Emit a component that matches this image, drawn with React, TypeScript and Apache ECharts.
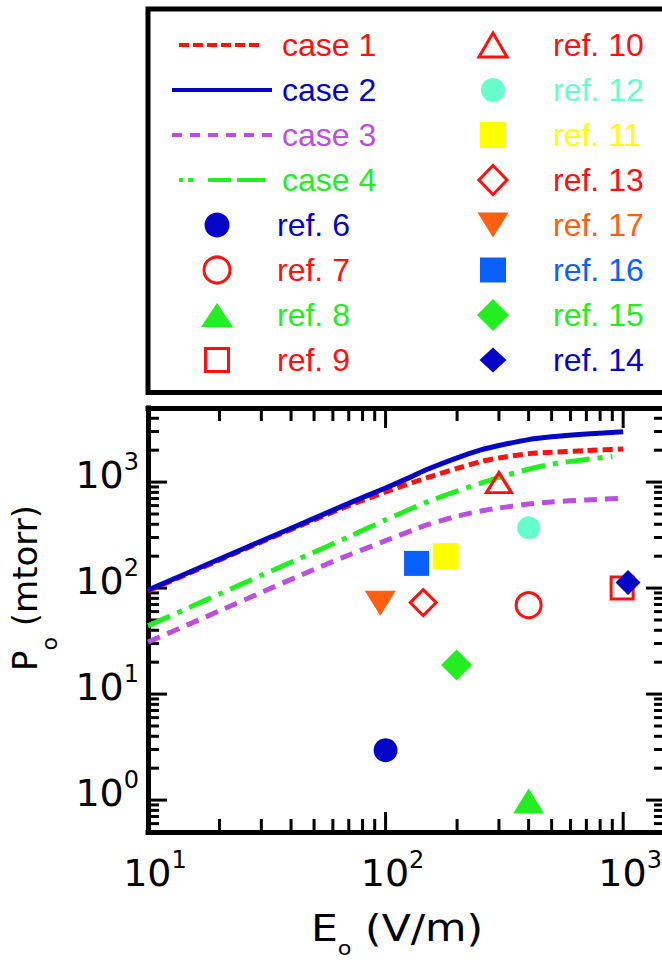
import React, { useEffect, useRef } from 'react';
import * as echarts from 'echarts';

// ---------- axis ranges & ticks ----------
const X_MIN = 10;
const X_MAX = 1500;
const Y_MIN = 0.5;
const Y_MAX = 5000;
const X_MAJOR_TICKS = [100, 1000];
const X_MINOR_TICKS = [20, 30, 40, 50, 60, 70, 80, 90, 200, 300, 400, 500, 600, 700, 800, 900];
const Y_MAJOR_TICKS = [1, 10, 100, 1000];
const Y_MINOR_TICKS = [0.6, 0.7, 0.8, 0.9, 2, 3, 4, 5, 6, 7, 8, 9, 20, 30, 40, 50, 60, 70, 80, 90,
  200, 300, 400, 500, 600, 700, 800, 900, 2000, 3000, 4000];

// ---------- model curves ----------
const E_CURVE = [10, 15, 20, 30, 50, 70, 100, 130, 150, 200, 250, 300, 400, 500, 700, 1000];
const E_CASE4 = [10, 15, 20, 30, 50, 70, 100, 130, 150, 200, 250, 300, 400, 500, 700, 900];
const CASE1 = [94, 139, 184, 272, 440, 600, 810, 991, 1104, 1346, 1555, 1690, 1853, 1910, 1983, 2050];
const CASE2 = [96, 142, 188, 278, 455, 630, 880, 1138, 1322, 1695, 2000, 2213, 2516, 2673, 2838, 2985];
const CASE3 = [31, 46, 61, 91, 150, 205, 280, 351, 396, 476, 532, 569, 621, 650, 679, 703];
const CASE4 = [44, 66, 88, 132, 218, 305, 440, 569, 650, 824, 972, 1107, 1322, 1476, 1637, 1740];

// ---------- reference points [E, P] ----------
const REF6 = [[100, 2.96]];
const REF7 = [[400, 69]];
const REF8 = [[400, 0.98]];
const REF9 = [[990, 100]];
const REF10 = [[300, 990]];
const REF12 = [[400, 370]];
const REF11 = [[179, 200]];
const REF13 = [[144, 73]];
const REF17 = [[95, 72]];
const REF16 = [[135, 171]];
const REF15 = [[199, 18.8]];
const REF14 = [[1048, 113]];

// ---------- colours ----------
const RED = '#ff1010';
const DBLUE = '#0505c8';
const PURPLE = '#bb4fe0';
const GREEN = '#22ee22';
const AQUA = '#66ffcc';
const YELLOW = '#ffff00';
const ORANGE = '#ff6010';
const BLUE = '#0a60ff';

type Curve = { name: string; xs: number[]; values: number[]; color: string; dash: number[] | 'solid'; legendDash: number[] | null; lx: [number, number] };
const CURVES: Curve[] = [
  { name: 'case 1', xs: E_CURVE, values: CASE1, color: RED, dash: [10, 5], legendDash: [10, 4], lx: [179, 263] },
  { name: 'case 2', xs: E_CURVE, values: CASE2, color: DBLUE, dash: 'solid', legendDash: null, lx: [172, 272] },
  { name: 'case 3', xs: E_CURVE, values: CASE3, color: PURPLE, dash: [13, 8], legendDash: [10, 8], lx: [172, 272] },
  { name: 'case 4', xs: E_CASE4, values: CASE4, color: GREEN, dash: [24, 8, 5, 8], legendDash: [4, 5, 5, 15, 23, 6, 28], lx: [179, 265] },
];

type Mk = { name: string; data: number[][]; shape: string; color: string; open: boolean; size: number[]; lsize: number[] };
const LEFT_MARKERS: Mk[] = [
  { name: 'ref. 6', data: REF6, shape: 'circle', color: DBLUE, open: false, size: [24, 24], lsize: [25, 25] },
  { name: 'ref. 7', data: REF7, shape: 'circle', color: RED, open: true, size: [25, 25], lsize: [26, 26] },
  { name: 'ref. 8', data: REF8, shape: 'triangle', color: GREEN, open: false, size: [31, 25], lsize: [32, 24] },
  { name: 'ref. 9', data: REF9, shape: 'rect', color: RED, open: true, size: [22, 22], lsize: [23, 23] },
];
const RIGHT_MARKERS: Mk[] = [
  { name: 'ref. 10', data: REF10, shape: 'triangle', color: RED, open: true, size: [25, 20], lsize: [28, 24] },
  { name: 'ref. 12', data: REF12, shape: 'circle', color: AQUA, open: false, size: [23, 23], lsize: [24, 24] },
  { name: 'ref. 11', data: REF11, shape: 'rect', color: YELLOW, open: false, size: [26, 26], lsize: [26, 26] },
  { name: 'ref. 13', data: REF13, shape: 'diamond', color: RED, open: true, size: [26, 26], lsize: [28, 29] },
  { name: 'ref. 17', data: REF17, shape: 'triangleDown', color: ORANGE, open: false, size: [31, 25], lsize: [31, 25] },
  { name: 'ref. 16', data: REF16, shape: 'rect', color: BLUE, open: false, size: [25, 25], lsize: [26, 25] },
  { name: 'ref. 15', data: REF15, shape: 'diamond', color: GREEN, open: false, size: [31, 31], lsize: [32, 32] },
  { name: 'ref. 14', data: REF14, shape: 'diamond', color: DBLUE, open: false, size: [25, 25], lsize: [27, 25] },
];

const TICK_FONT = 'DejaVu Sans';
const LEG_FONT = 'Liberation Sans';

function powLabel(v: number) {
  const e = Math.log10(v);
  if (Math.abs(e - Math.round(e)) > 1e-6) return '';
  return `{b|10}{s|${Math.round(e)}}`;
}

const labelRich = {
  b: { fontSize: 38, fontFamily: TICK_FONT, lineHeight: 50, color: '#000' },
  s: { fontSize: 24, fontFamily: TICK_FONT, lineHeight: 24, verticalAlign: 'top', color: '#000' },
};

function markerGraphic(shape: string, cx: number, cy: number, w: number, h: number, color: string, open: boolean) {
  const style = open ? { fill: 'none', stroke: color, lineWidth: 3 } : { fill: color };
  if (shape === 'circle') return { type: 'circle', shape: { cx, cy, r: w / 2 }, style };
  if (shape === 'rect') return { type: 'rect', shape: { x: cx - w / 2, y: cy - h / 2, width: w, height: h }, style };
  let pts: number[][];
  if (shape === 'triangle') pts = [[cx, cy - h / 2], [cx + w / 2, cy + h / 2], [cx - w / 2, cy + h / 2]];
  else if (shape === 'triangleDown') pts = [[cx - w / 2, cy - h / 2], [cx + w / 2, cy - h / 2], [cx, cy + h / 2]];
  else pts = [[cx, cy - h / 2], [cx + w / 2, cy], [cx, cy + h / 2], [cx - w / 2, cy]];
  return { type: 'polygon', shape: { points: pts }, style };
}

function legendText(text: string, x: number, y: number, color: string) {
  return {
    type: 'text', x, y,
    style: {
      text, fill: color, fontSize: 32, fontFamily: LEG_FONT,
      align: 'left', verticalAlign: 'middle', textAlign: 'left', textVerticalAlign: 'middle',
    },
  };
}

function buildOption() {
  const ROW0 = 45;
  const PITCH = 45;
  const legend: any[] = [];
  legend.push({
    type: 'polyline',
    shape: { points: [[720, 9], [148, 9], [148, 392.5], [720, 392.5]] },
    style: { fill: 'none', stroke: '#000', lineWidth: 5, lineJoin: 'miter' },
  });
  CURVES.forEach((c, i) => {
    const y = ROW0 + PITCH * i;
    legend.push({
      type: 'line', shape: { x1: c.lx[0], y1: y, x2: c.lx[1], y2: y },
      style: { stroke: c.color, lineWidth: 4, lineDash: c.legendDash || undefined },
    });
    legend.push(legendText(c.name, 282, y, c.color));
  });
  LEFT_MARKERS.forEach((m, i) => {
    const y = ROW0 + PITCH * (i + 4);
    legend.push(markerGraphic(m.shape, 217, y, m.lsize[0], m.lsize[1], m.color, m.open));
    legend.push(legendText(m.name, 277, y, m.color));
  });
  RIGHT_MARKERS.forEach((m, i) => {
    const y = ROW0 + PITCH * i;
    legend.push(markerGraphic(m.shape, 493, y, m.lsize[0], m.lsize[1], m.color, m.open));
    legend.push(legendText(m.name, 553, y, m.color));
  });

  const titleRich = (fs: number, lh: number, sfs: number) => ({
    a: { fontSize: fs, fontFamily: TICK_FONT, lineHeight: lh, fill: '#000', color: '#000' },
    s: { fontSize: sfs, fontFamily: TICK_FONT, lineHeight: sfs, verticalAlign: 'bottom', fill: '#000', color: '#000' },
  });
  const titles = [
    {
      type: 'text', x: 25, y: 588, rotation: Math.PI / 2,
      style: { text: '{a|P}{s|o}{a| (mtorr)}', rich: titleRich(34, 70, 22), align: 'center', verticalAlign: 'middle', textAlign: 'center', textVerticalAlign: 'middle' },
    },
    {
      type: 'text', x: 397, y: 928, scaleX: 1.12,
      style: { text: '{a|E}{s|o}{a| (V/m)}', rich: titleRich(38, 60, 20), align: 'center', verticalAlign: 'middle', textAlign: 'center', textVerticalAlign: 'middle' },
    },
  ];

  const tickData = (axis: 'x' | 'y') => axis === 'x'
    ? [...X_MINOR_TICKS.map(v => [v, Y_MIN, 0]), ...X_MAJOR_TICKS.map(v => [v, Y_MIN, 1])]
    : [...Y_MINOR_TICKS.map(v => [X_MIN, v, 0]), ...Y_MAJOR_TICKS.map(v => [X_MIN, v, 1])];

  const tickSeries = (axis: 'x' | 'y') => ({
    type: 'custom',
    silent: true,
    z: 2,
    xAxisIndex: 0,
    yAxisIndex: 0,
    data: tickData(axis),
    renderItem: (_p: any, api: any) => {
      const major = api.value(2) === 1;
      const st = { stroke: '#000', lineWidth: 3 };
      if (axis === 'x') {
        const v = api.value(0);
        const b = api.coord([v, Y_MIN]);
        const t = api.coord([v, Y_MAX]);
        const len = major ? 20 : 13;
        return {
          type: 'group', children: [
            { type: 'line', shape: { x1: b[0], y1: b[1], x2: b[0], y2: b[1] - len }, style: st },
            { type: 'line', shape: { x1: t[0], y1: t[1], x2: t[0], y2: t[1] + len }, style: st },
          ],
        };
      }
      const v = api.value(1);
      const l = api.coord([X_MIN, v]);
      const r = api.coord([X_MAX, v]);
      const len = major ? 19 : 11;
      return {
        type: 'group', children: [
          { type: 'line', shape: { x1: l[0], y1: l[1], x2: l[0] + len, y2: l[1] }, style: st },
          { type: 'line', shape: { x1: r[0], y1: r[1], x2: r[0] - len, y2: r[1] }, style: st },
        ],
      };
    },
  });

  const lineSeries = CURVES.map((c, i) => ({
    type: 'line',
    name: c.name,
    xAxisIndex: 0,
    yAxisIndex: 0,
    data: c.xs.map((e, k) => [e, c.values[k]]),
    symbol: 'none',
    smooth: 0.25,
    z: i === 1 ? 4 : 3,
    lineStyle: { color: c.color, width: 5, type: c.dash },
  }));

  const scatterSeries = [...LEFT_MARKERS, ...RIGHT_MARKERS].map(m => ({
    type: 'scatter',
    name: m.name,
    xAxisIndex: 0,
    yAxisIndex: 0,
    data: m.data,
    symbol: m.shape === 'triangleDown' ? 'triangle' : m.shape,
    symbolRotate: m.shape === 'triangleDown' ? 180 : 0,
    symbolSize: m.size,
    z: 6,
    itemStyle: m.open
      ? { color: 'rgba(255,255,255,0)', borderColor: m.color, borderWidth: 3, opacity: 1 }
      : { color: m.color, opacity: 1 },
  }));

  const frameLine = { show: true, onZero: false, lineStyle: { color: '#000', width: 5, cap: 'square' } };
  const bare = { axisTick: { show: false }, splitLine: { show: false }, minorTick: { show: false } };

  return {
    animation: false,
    backgroundColor: '#fff',
    grid: { left: 148, top: 408, width: 517, height: 424, show: false, containLabel: false, outerBoundsMode: 'none' },
    xAxis: [
      {
        type: 'log', logBase: 10, min: X_MIN, max: X_MAX, position: 'bottom',
        axisLine: frameLine, ...bare,
        axisLabel: { formatter: powLabel, rich: labelRich, margin: 16, padding: [0, 0, 0, 14], color: '#000' },
      },
      {
        type: 'log', logBase: 10, min: X_MIN, max: X_MAX, position: 'top',
        axisLine: frameLine, ...bare, axisLabel: { show: false },
      },
    ],
    yAxis: [
      {
        type: 'log', logBase: 10, min: Y_MIN, max: Y_MAX, position: 'left',
        axisLine: frameLine, ...bare,
        axisLabel: { formatter: powLabel, rich: labelRich, margin: 9, padding: [0, 0, 14, 0], color: '#000' },
      },
    ],
    graphic: { elements: [...legend, ...titles] },
    series: [tickSeries('x'), tickSeries('y'), ...lineSeries, ...scatterSeries],
  };
}

export default function App() {
  const ref = useRef<HTMLDivElement>(null);
  useEffect(() => {
    if (!ref.current) return;
    const chart = echarts.init(ref.current, null, { renderer: 'svg' });
    chart.setOption(buildOption() as any);
    return () => chart.dispose();
  }, []);
  return <div ref={ref} style={{ position: 'fixed', left: 0, top: 0, width: 662, height: 960, background: '#fff' }} />;
}
